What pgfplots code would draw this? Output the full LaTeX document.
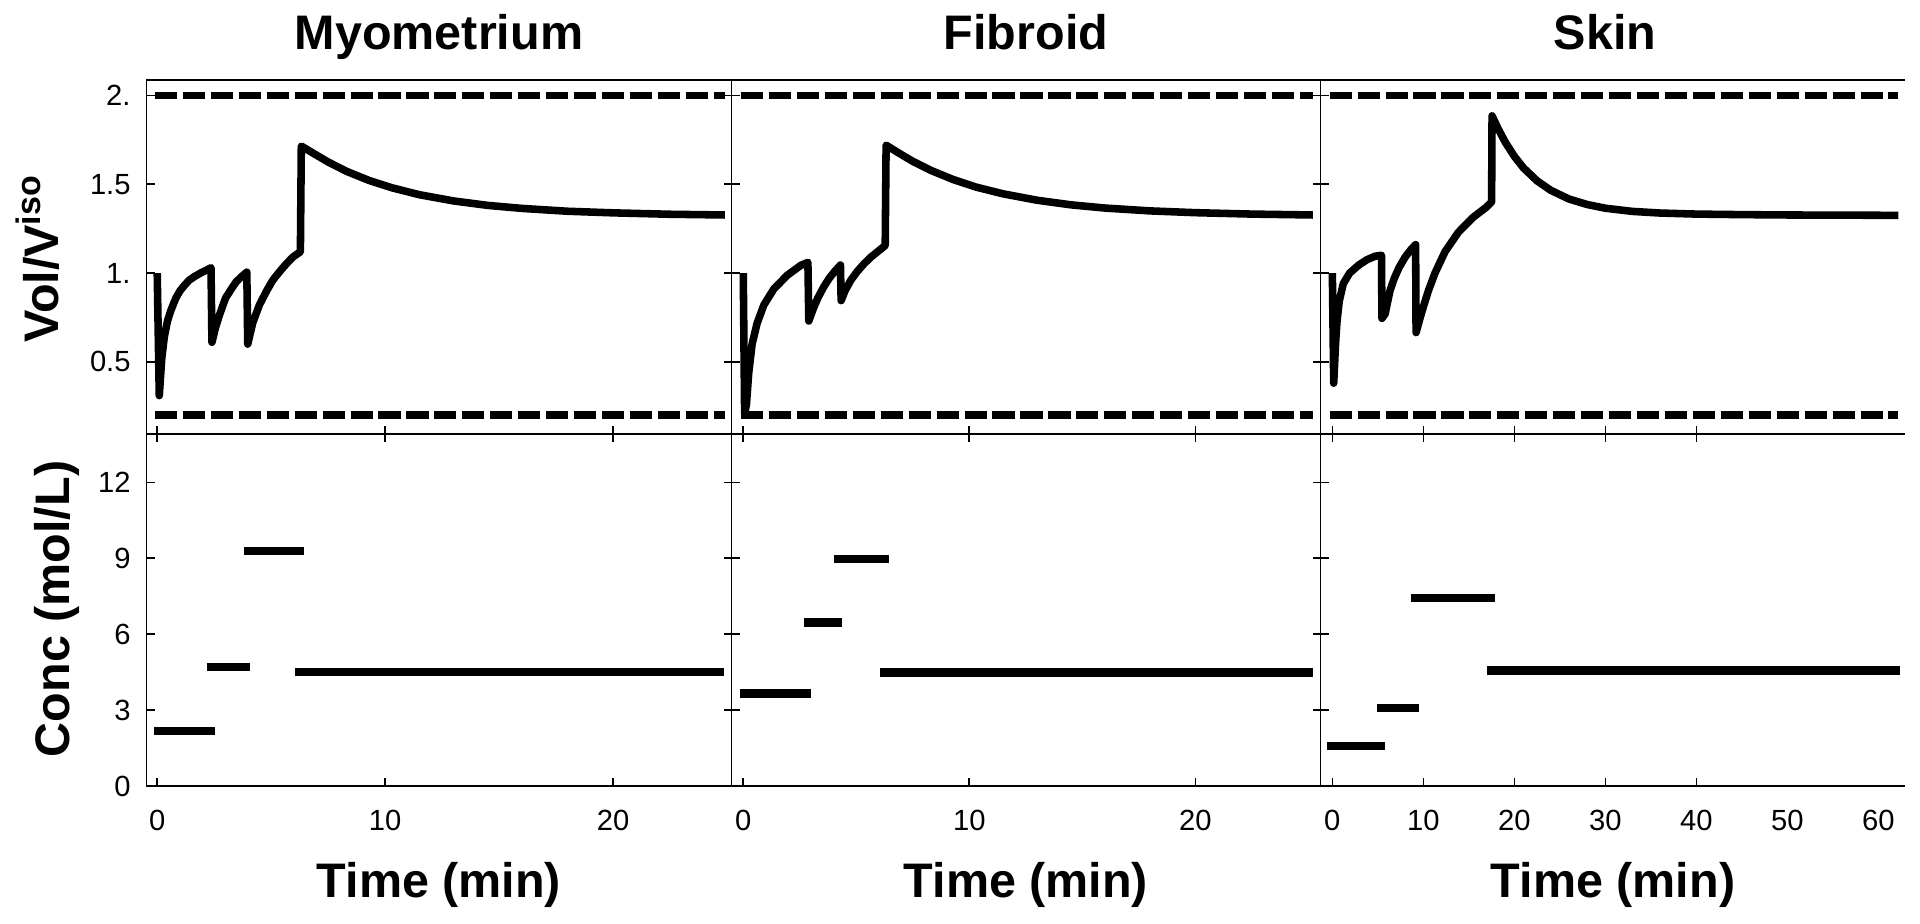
\documentclass[border=0pt]{standalone}
\usepackage{pgfplots}
\pgfplotsset{compat=1.18}
\usepackage{fontspec}
\setmainfont{Liberation Sans}

% layout in px of the 1920x924 reference: 1px = 0.01cm
\pgfplotsset{
  panel/.style={scale only axis, anchor=south west, enlargelimits=false,
    axis line style={line width=0.5pt}, tick align=inside,
    major tick length=0.08cm, major tick style={line width=0.45pt,black},
    tick label style={font=\fontsize{8.3}{10}\selectfont},
    yticklabel style={xshift=-1pt}, xticklabel style={yshift=-3.4pt},
    /pgf/number format/assume math mode=true},
  toprow/.style={height=3.54cm, ymin=0.094, ymax=2.087, ytick={0.5,1,1.5,2},
    xtick pos=left, xticklabels={}},
  botrow/.style={height=3.52cm, ymin=0, ymax=13.91, ytick={0,3,6,9,12}},
  vol/.style={black, line width=2.15pt, line join=round, no marks},
  limit/.style={black, line width=2.1pt, no marks, dash pattern=on 6.3pt off 1.65pt},
  conc/.style={black, line width=2.35pt, no marks},
}

\begin{document}
\begin{tikzpicture}
\useasboundingbox (0,0) rectangle (19.2,9.24);

% ---------- Myometrium ----------
\begin{axis}[panel, toprow, at={(1.465cm,4.9cm)}, width=5.85cm,
  xmin=-0.47, xmax=25.19, xtick={0,10,20}, yticklabels={0.5,1.,1.5,2.}]
\addplot[limit] coordinates {(-0.1,2) (24.9,2)};
\addplot[limit] coordinates {(-0.1,0.2) (24.9,0.2)};
\addplot[vol] coordinates {
(0,1.0) (0.09,0.31) (0.2,0.52) (0.31,0.64) (0.45,0.73) (0.6,0.79) (0.82,0.86)
(1.0,0.90) (1.19,0.93) (1.4,0.96) (1.63,0.98) (1.9,1.0) (2.14,1.015) (2.36,1.03)
(2.40,0.61) (2.55,0.69) (2.72,0.76) (3.0,0.86) (3.25,0.91) (3.46,0.95) (3.7,0.98)
(3.93,1.005) (3.97,0.60) (4.19,0.72) (4.48,0.82) (4.8,0.90) (5.07,0.96) (5.35,1.005)
(5.65,1.05) (5.95,1.09) (6.28,1.12) (6.32,1.715) (6.8,1.678) (7.5,1.625) (8.3,1.573)
(9.3,1.521) (10.3,1.480) (11.5,1.441) (13,1.406) (14.5,1.381) (16,1.364) (18,1.348)
(20,1.339) (22.5,1.331) (24.9,1.327)};
\end{axis}
\begin{axis}[panel, botrow, at={(1.465cm,1.38cm)}, width=5.85cm,
  xmin=-0.47, xmax=25.19, xtick={0,10,20}, xticklabels={0,10,20},
  yticklabels={0,3,6,9,12}]
\addplot[conc] coordinates {(-0.13,2.17) (2.52,2.17)};
\addplot[conc] coordinates {(2.18,4.69) (4.07,4.69)};
\addplot[conc] coordinates {(3.8,9.30) (6.46,9.30)};
\addplot[conc] coordinates {(6.05,4.50) (24.88,4.50)};
\end{axis}

% ---------- Fibroid ----------
\begin{axis}[panel, toprow, at={(7.315cm,4.9cm)}, width=5.89cm,
  xmin=-0.52, xmax=25.54, xtick={0,10,20}, yticklabels={}]
\addplot[limit] coordinates {(-0.1,2) (25.2,2)};
\addplot[limit] coordinates {(-0.1,0.2) (25.2,0.2)};
\addplot[vol] coordinates {
(0,1.0) (0.06,0.21) (0.14,0.26) (0.24,0.435) (0.39,0.60) (0.61,0.716) (0.91,0.82)
(1.35,0.91) (1.94,0.987) (2.54,1.043) (2.86,1.06) (2.9,0.73) (3.1,0.80) (3.3,0.86)
(3.55,0.92) (3.8,0.97) (4.05,1.01) (4.3,1.045) (4.33,0.845) (4.5,0.90) (4.76,0.96)
(5.05,1.01) (5.35,1.053) (5.65,1.09) (5.94,1.12) (6.28,1.155) (6.32,1.72) (6.8,1.682)
(7.5,1.629) (8.3,1.578) (9.3,1.526) (10.3,1.484) (11.5,1.446) (13,1.410) (14.5,1.384)
(16,1.366) (18,1.350) (20,1.340) (22.5,1.332) (25.2,1.327)};
\end{axis}
\begin{axis}[panel, botrow, at={(7.315cm,1.38cm)}, width=5.89cm,
  xmin=-0.52, xmax=25.54, xtick={0,10,20}, xticklabels={0,10,20},
  yticklabels={}]
\addplot[conc] coordinates {(-0.15,3.66) (3.0,3.66)};
\addplot[conc] coordinates {(2.68,6.46) (4.37,6.46)};
\addplot[conc] coordinates {(4.0,8.96) (6.45,8.96)};
\addplot[conc] coordinates {(6.05,4.49) (25.2,4.49)};
\end{axis}

% ---------- Skin ----------
\begin{axis}[panel, toprow, at={(13.205cm,4.9cm)}, width=5.845cm,
  axis y line*=left, xmin=-1.3, xmax=62.93, xtick={0,10,20,30,40},
  yticklabels={}]
\addplot[limit] coordinates {(-0.3,2) (62.2,2)};
\addplot[limit] coordinates {(-0.3,0.2) (62.2,0.2)};
\addplot[vol] coordinates {
(0,1.0) (0.15,0.38) (0.35,0.60) (0.5,0.72) (0.75,0.84) (1.2,0.94) (1.9,1.0)
(2.9,1.045) (3.8,1.075) (4.7,1.095) (5.4,1.10) (5.45,0.745) (5.8,0.77) (6.0,0.82)
(6.33,0.90) (6.8,0.97) (7.32,1.03) (8.0,1.09) (8.6,1.13) (9.15,1.16) (9.2,0.665)
(9.6,0.74) (10.0,0.81) (10.55,0.90) (11.28,1.0) (12.38,1.12) (13.85,1.23)
(15.5,1.315) (16.9,1.37) (17.5,1.40) (17.55,1.885) (18.2,1.814) (19,1.737)
(20,1.657) (21,1.592) (22.5,1.519) (24,1.466) (26,1.417) (28,1.386) (30,1.365)
(33,1.347) (36,1.338) (40,1.332) (45,1.329) (50,1.327) (56,1.326) (62.2,1.325)};
\end{axis}
\begin{axis}[panel, botrow, at={(13.205cm,1.38cm)}, width=5.845cm,
  axis y line*=left, xmin=-1.3, xmax=62.93,
  xtick={0,10,20,30,40}, xticklabels={0,10,20,30,40},
  extra x ticks={50,60}, extra x tick labels={50,60},
  extra x tick style={major tick length=0pt}, yticklabels={}]
\addplot[conc] coordinates {(-0.6,1.57) (5.8,1.57)};
\addplot[conc] coordinates {(4.95,3.08) (9.55,3.08)};
\addplot[conc] coordinates {(8.6,7.42) (17.9,7.42)};
\addplot[conc] coordinates {(17.0,4.56) (62.4,4.56)};
\end{axis}

% ---------- titles and labels ----------
\begin{scope}[every node/.style={font=\fontsize{13.8}{16}\selectfont\bfseries, inner sep=0pt}]
\node[anchor=base] at (4.39,8.74) {Myometrium};
\node[anchor=base] at (10.26,8.74) {Fibroid};
\node[anchor=base] at (16.05,8.74) {Skin};
\node[anchor=base] at (4.39,0.26) {Time (min)};
\node[anchor=base] at (10.26,0.26) {Time (min)};
\node[anchor=base] at (16.13,0.26) {Time (min)};
\node[rotate=90, anchor=base] at (0.59,6.655) {Vol/V\textsuperscript{iso}};
\node[rotate=90, anchor=base] at (0.70,3.15) {Conc (mol/L)};
\end{scope}
\end{tikzpicture}
\end{document}
